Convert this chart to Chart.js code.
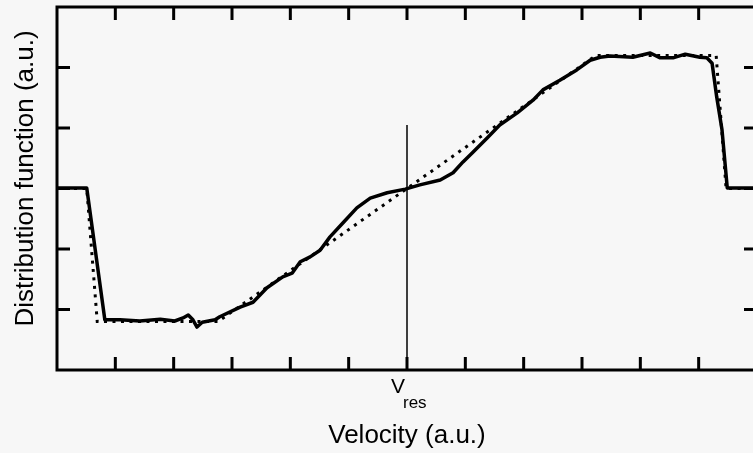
<!DOCTYPE html>
<html>
<head>
<meta charset="utf-8">
<script src="https://cdn.jsdelivr.net/npm/chart.js@4.4.1/dist/chart.umd.min.js"></script>
<style>
  html, body { margin: 0; padding: 0; background: #f7f7f7; overflow: hidden; }
  #wrap { width: 760px; height: 453px; }
</style>
</head>
<body>
<div id="wrap"><canvas id="dist" width="760" height="453"></canvas></div>
<script>
// measured distribution function (solid curve)
const velocity = [-6.00, -5.49, -5.18, -4.92, -4.58, -4.23, -3.98, -3.84, -3.75, -3.67, -3.60, -3.51,
  -3.29, -3.21, -2.86, -2.64, -2.40, -2.13, -1.97, -1.83, -1.66, -1.49, -1.32, -1.10, -0.86, -0.63,
  -0.34, -0.03, 0.22, 0.57, 0.79, 0.96, 1.13, 1.37, 1.59, 1.89, 2.16, 2.33, 2.62, 2.91, 3.14, 3.31,
  3.48, 3.87, 4.17, 4.34, 4.56, 4.77, 5.02, 5.14, 5.23, 5.31, 5.40, 5.49, 6.00];
const distribution = [3.01, 3.01, 0.83, 0.83, 0.81, 0.84, 0.81, 0.86, 0.91, 0.83, 0.71, 0.79,
  0.83, 0.88, 1.04, 1.12, 1.36, 1.54, 1.60, 1.79, 1.87, 1.98, 2.20, 2.43, 2.68, 2.84,
  2.93, 2.99, 3.06, 3.14, 3.26, 3.44, 3.60, 3.83, 4.05, 4.25, 4.46, 4.63, 4.79, 4.96, 5.12, 5.17,
  5.19, 5.17, 5.24, 5.16, 5.16, 5.22, 5.17, 5.16, 5.07, 4.51, 3.97, 3.01, 3.01];

// model: two plateaus joined by a constant slope (dotted)
const modelVelocity = [-6, -5.49, -5.31, -3.24, 3.24, 5.30, 5.47, 6];
const modelValue = [3, 3, 0.8, 0.8, 5.2, 5.2, 3, 3];

// resonance marker
const resVelocity = [0, 0];
const resValue = [0, 4.05];

const xTicks = [-5, -4, -3, -2, -1, 0, 1, 2, 3, 4, 5];
const yTicks = [1, 2, 3, 4, 5];
const xTitle = 'Velocity (a.u.)';
const yTitle = 'Distribution function (a.u.)';
const resLabel = 'V';
const resSub = 'res';

const FONT = '"Liberation Sans", Arial, Helvetica, sans-serif';

function pts(xs, ys) {
  return xs.map((x, i) => ({ x: x, y: ys[i] }));
}

// box frame with inward ticks on all four sides, plus the text
const framePlugin = {
  id: 'frame',
  afterDatasetsDraw(chart) {
    const ctx = chart.ctx;
    const a = chart.chartArea;
    const x = chart.scales.x;
    const y = chart.scales.y;
    const len = 13;
    ctx.save();
    ctx.strokeStyle = '#000';
    ctx.lineWidth = 3;
    ctx.strokeRect(a.left, a.top, a.right - a.left, a.bottom - a.top);

    ctx.beginPath();
    xTicks.forEach(v => {
      const px = x.getPixelForValue(v);
      ctx.moveTo(px, a.bottom);
      ctx.lineTo(px, a.bottom - len);
      ctx.moveTo(px, a.top);
      ctx.lineTo(px, a.top + len);
    });
    yTicks.forEach(v => {
      const py = y.getPixelForValue(v);
      ctx.moveTo(a.left, py);
      ctx.lineTo(a.left + len, py);
      ctx.moveTo(a.right, py);
      ctx.lineTo(a.right - len, py);
    });
    ctx.stroke();

    ctx.fillStyle = '#000';
    const x0 = x.getPixelForValue(0);

    ctx.font = '21px ' + FONT;
    ctx.textAlign = 'right';
    ctx.textBaseline = 'alphabetic';
    ctx.fillText(resLabel, x0 - 2, 393);
    ctx.font = '17px ' + FONT;
    ctx.textAlign = 'left';
    ctx.fillText(resSub, x0 - 4, 408);

    ctx.font = '26px ' + FONT;
    ctx.textAlign = 'center';
    ctx.fillText(xTitle, x0, 443);

    ctx.translate(33, (a.top + a.bottom) / 2 - 10);
    ctx.rotate(-Math.PI / 2);
    ctx.fillText(yTitle, 0, 0);
    ctx.restore();
  }
};

new Chart(document.getElementById('dist'), {
  type: 'scatter',
  data: {
    datasets: [
      {
        data: pts(modelVelocity, modelValue),
        showLine: true,
        borderColor: '#000',
        borderWidth: 3,
        borderDash: [3, 5.5],
        borderCapStyle: 'butt',
        pointRadius: 0,
        tension: 0
      },
      {
        data: pts(velocity, distribution),
        showLine: true,
        borderColor: '#000',
        borderWidth: 3.5,
        borderJoinStyle: 'round',
        borderCapStyle: 'round',
        pointRadius: 0,
        tension: 0
      },
      {
        data: pts(resVelocity, resValue),
        showLine: true,
        borderColor: '#000',
        borderWidth: 1.5,
        pointRadius: 0
      }
    ]
  },
  options: {
    responsive: false,
    animation: false,
    events: [],
    layout: { padding: { left: 57, right: 3, top: 7, bottom: 83 } },
    plugins: { legend: { display: false }, tooltip: { enabled: false } },
    scales: {
      x: { type: 'linear', min: -6, max: 6, display: false },
      y: { type: 'linear', min: 0, max: 6, display: false }
    }
  },
  plugins: [framePlugin]
});
</script>
</body>
</html>
